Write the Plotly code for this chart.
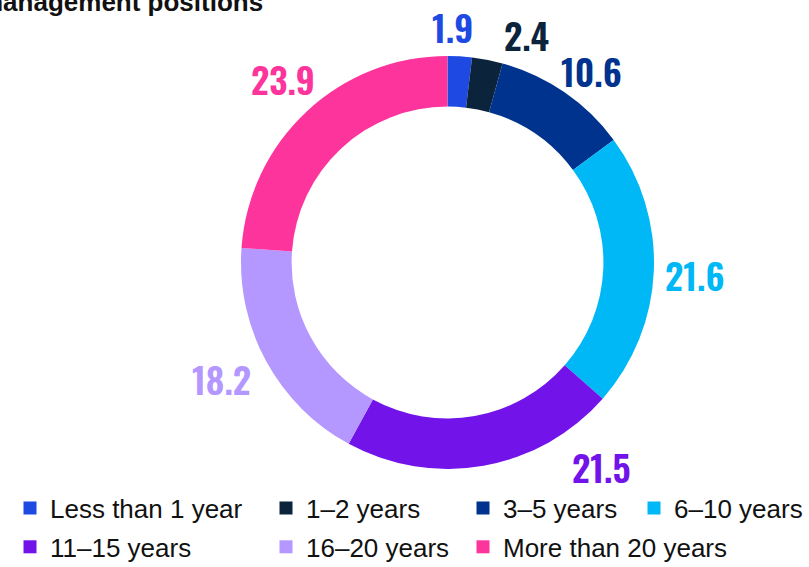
import numpy as np
import plotly.graph_objects as go

# share of respondents by years in management positions (%)
categories = [
    "Less than 1 year",
    "1–2 years",
    "3–5 years",
    "6–10 years",
    "11–15 years",
    "16–20 years",
    "More than 20 years",
]
shares = [1.9, 2.4, 10.6, 21.6, 21.5, 18.2, 23.9]
colors = ["#1E49E2", "#0C233C", "#00338D", "#00B8F5", "#7213EA", "#B497FF", "#FD349C"]

# which legend column each category sits in
legend_cols = ["legend", "legend2", "legend3", "legend4", "legend", "legend2", "legend3"]

W, H = 809, 567
cx, cy, R = 447.5, 262.5, 206.5

# small hand tweaks so the value labels sit where the original puts them
label_angle_shift = [-2.3, 8.0, 2.5, 0.6, -26.7, 1.2, 0.9]
label_extra_r = [0, 4, 0, 0, 18, 4, 6]

fig = go.Figure()

fig.add_trace(
    go.Pie(
        labels=categories,
        values=shares,
        sort=False,
        direction="clockwise",
        rotation=0,
        hole=0.755,
        marker=dict(colors=colors, line=dict(width=0)),
        textinfo="none",
        hoverinfo="label+value",
        showlegend=False,
        domain=dict(
            x=[(cx - R) / W, (cx + R) / W],
            y=[1 - (cy + R) / H, 1 - (cy - R) / H],
        ),
    )
)

# legend entries
for i, name in enumerate(categories):
    fig.add_trace(
        go.Scatter(
            x=[None],
            y=[None],
            mode="markers",
            name=name,
            legendgroup=name,
            legend=legend_cols[i],
            marker=dict(symbol="square", size=13, color=colors[i]),
        )
    )

# value labels around the ring
total = sum(shares)
cum = np.cumsum([0] + shares)
for i, v in enumerate(shares):
    mid = (cum[i] + v / 2) / total * 360 + label_angle_shift[i]
    a = np.radians(mid)
    dx, dy = np.sin(a), -np.cos(a)
    txt = f"{v:.1f}"
    w, h = 13.5 * len(txt), 29
    t = min(w / 2 / max(abs(dx), 1e-6), h / 2 / max(abs(dy), 1e-6))
    r = R + 14 + t + label_extra_r[i]
    px, py = cx + r * dx, cy + r * dy
    fig.add_annotation(
        xref="paper",
        yref="paper",
        x=px / W,
        y=1 - (py - 1.5) / H,
        xanchor="center",
        yanchor="middle",
        text=txt,
        showarrow=False,
        font=dict(family="Oswald, Barlow Condensed, sans-serif", size=36, weight=600, color=colors[i]),
    )

# chart title, cut off at the left edge like the source
fig.add_annotation(
    xref="paper",
    yref="paper",
    x=265 / W,
    y=1 - 2.5 / H,
    xanchor="right",
    yanchor="middle",
    text="<b>management positions</b>",
    showarrow=False,
    font=dict(family="Liberation Sans, Arial, sans-serif", size=26, color="#111111"),
)

legend_style = dict(
    orientation="v",
    xanchor="left",
    yanchor="top",
    y=1 - 484.6 / H,
    bgcolor="rgba(0,0,0,0)",
    borderwidth=0,
    traceorder="grouped",
    tracegroupgap=2,
    font=dict(family="Liberation Sans, Arial, sans-serif", size=26, color="#111111"),
)

fig.update_layout(
    width=W,
    height=H,
    margin=dict(l=0, r=0, t=0, b=0, autoexpand=False),
    paper_bgcolor="white",
    plot_bgcolor="white",
    xaxis=dict(visible=False),
    yaxis=dict(visible=False),
    legend=dict(legend_style, x=10 / W),
    legend2=dict(legend_style, x=266 / W),
    legend3=dict(legend_style, x=463 / W),
    legend4=dict(legend_style, x=634 / W),
)

fig.write_html(
    "out.html",
    config=dict(displayModeBar=False),
    post_script="document.body.style.margin='0';",
)
